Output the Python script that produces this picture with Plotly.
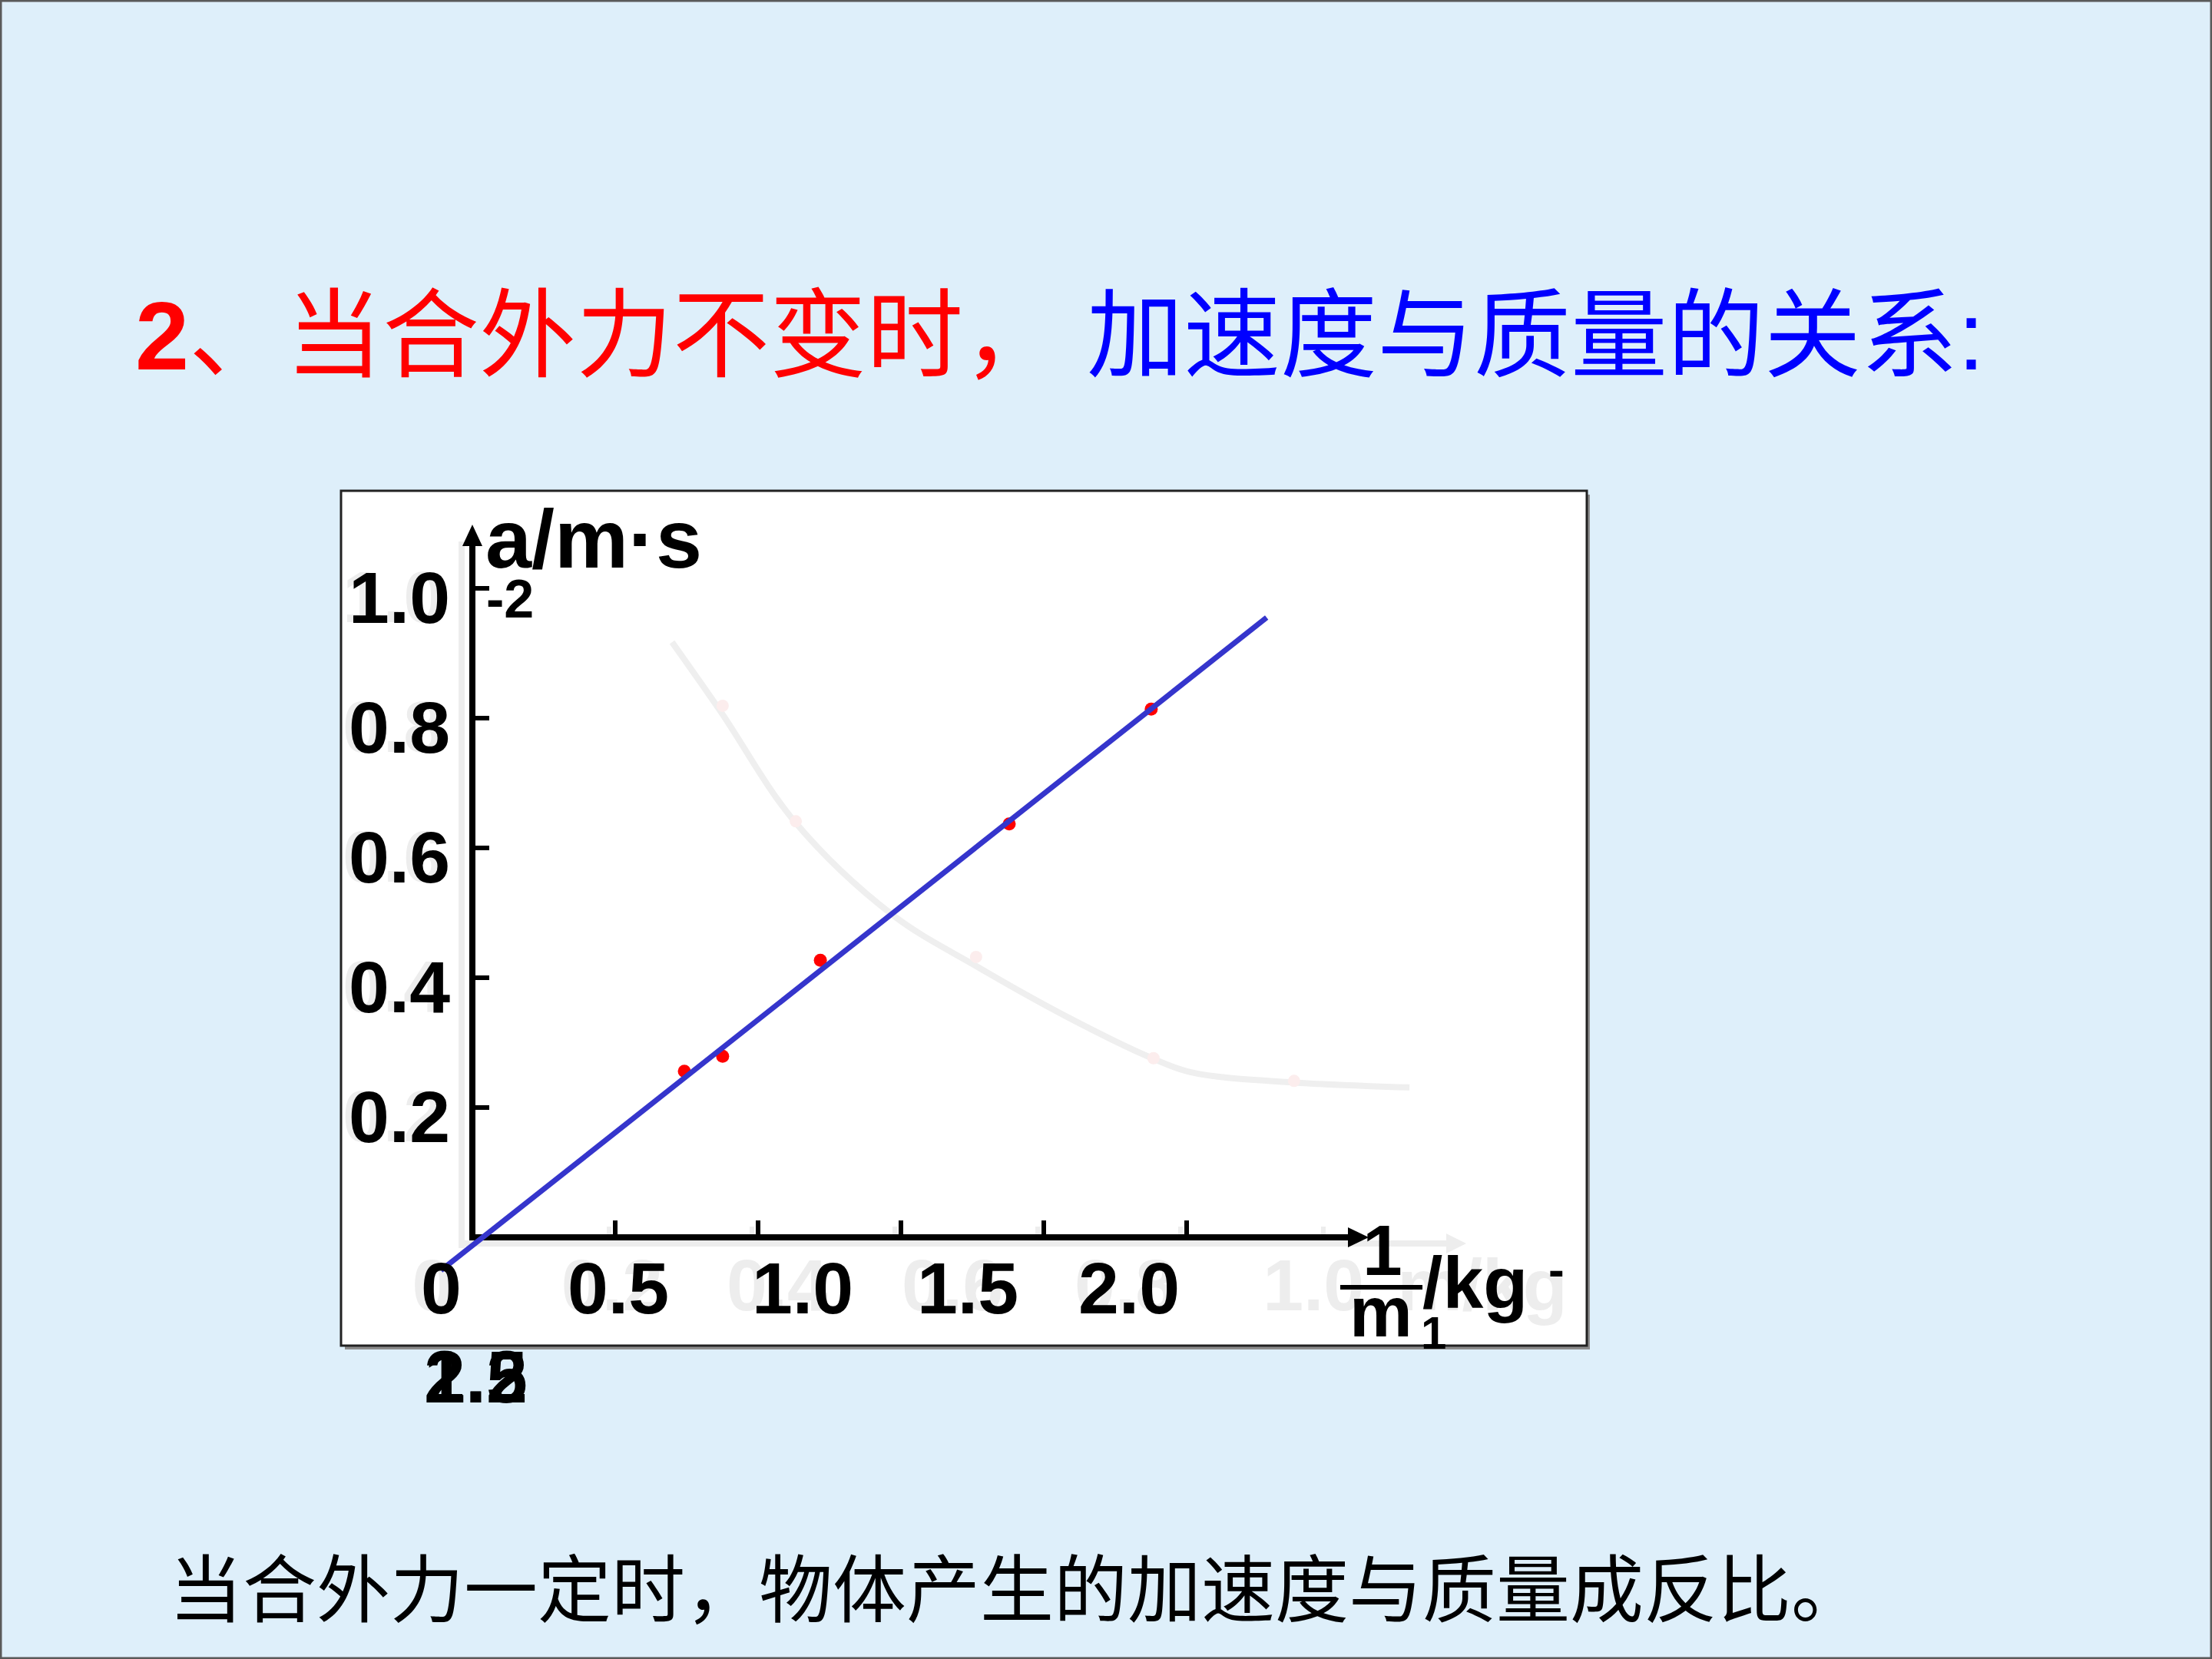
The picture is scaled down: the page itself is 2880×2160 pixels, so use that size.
import plotly.graph_objects as go

W, H = 2880, 2160
# pixel calibration of the data axes (origin pixel and pixels per unit)
X0_PX, X_PER_UNIT = 615, 372
Y0_PX, Y_PER_UNIT = 1611, 845

# ---------------- data ----------------
inv_mass = [0.742, 0.876, 1.218, 1.879, 2.376]      # 1/m  (kg^-1)
accel = [0.256, 0.279, 0.427, 0.637, 0.814]         # a    (m/s^2)
fit_x = [-0.11, 2.78]
fit_y = [-0.051, 0.955]

# faded previous chart (a vs m) still visible behind
ghost_curve_x = [0.699, 0.871, 1.129, 1.470, 1.763, 2.089, 2.379, 2.519, 2.860, 3.280]
ghost_curve_y = [0.917, 0.809, 0.640, 0.497, 0.418, 0.338, 0.276, 0.254, 0.239, 0.231]
ghost_pts_x = [0.876, 1.132, 1.763, 2.384, 2.876]
ghost_pts_y = [0.819, 0.641, 0.432, 0.276, 0.241]
ghost_x_labels = ["0", "0.2", "0.4", "0.6", "0.8", "1.0", "m/kg"]
ghost_x_label_pos = [-0.140, 0.489, 1.067, 1.680, 2.285, 2.944, 3.535]

x_ticks = [0.5, 1.0, 1.5, 2.0, 2.5]
y_ticks = [0.2, 0.4, 0.6, 0.8, 1.0]
y_tick_labels = ["0.2", "0.4", "0.6", "0.8", "1.0"]
x_tick_labels = ["0", "0.5", "1.0", "1.5", "2.0"]
x_label_pos = [-0.108, 0.511, 1.156, 1.734, 2.298]

title_red = "2、当合外力不变时，"
title_blue = "加速度与质量的关系:"
conclusion = "当合外力一定时，物体产生的加速度与质量成反比。"
stray_labels = ["1.2", "2.5"]

# ---------------- helpers ----------------
def X(px):
    return (px - X0_PX) / X_PER_UNIT

def Y(py):
    return (Y0_PX - py) / Y_PER_UNIT

def PX(px):
    return px / W

def PY(py):
    return 1 - py / H

BG = "#DEEFFA"
GHOST = "#EDEDED"
LAT = "Liberation Sans, Arial, sans-serif"
CJK = "Liberation Sans, Noto Sans CJK SC, sans-serif"
TICK_SIZE = 95

fig = go.Figure()

# ghost layer (faded previous chart)
fig.add_trace(go.Scatter(x=ghost_curve_x, y=ghost_curve_y, mode="lines",
                         line=dict(color="#EFEFEF", width=8, shape="spline", smoothing=1.0),
                         hoverinfo="skip"))
fig.add_trace(go.Scatter(x=ghost_pts_x, y=ghost_pts_y, mode="markers",
                         marker=dict(color="#FCEDED", size=16), hoverinfo="skip"))
fig.add_trace(go.Scatter(x=[X(578)] * len(y_ticks), y=[t - 20 / Y_PER_UNIT for t in y_ticks],
                         mode="text", text=y_tick_labels, textposition="middle left",
                         textfont=dict(family=LAT, size=TICK_SIZE, color=GHOST, weight="bold"),
                         hoverinfo="skip"))
fig.add_trace(go.Scatter(x=ghost_x_label_pos, y=[Y(1682)] * len(ghost_x_labels),
                         mode="text", text=ghost_x_labels, textposition="middle center",
                         textfont=dict(family=LAT, size=TICK_SIZE, color=GHOST, weight="bold"),
                         hoverinfo="skip"))

# real data
fig.add_trace(go.Scatter(x=inv_mass, y=accel, mode="markers",
                         marker=dict(color="#FF0000", size=17)))
fig.add_trace(go.Scatter(x=fit_x, y=fit_y, mode="lines",
                         line=dict(color="#3535CC", width=7)))

shapes = []
# chart box shadow + box
shapes.append(dict(type="rect", xref="paper", yref="paper", layer="below",
                   x0=PX(449), x1=PX(2070), y0=PY(1757), y1=PY(644),
                   fillcolor="#8C8C8C", line=dict(width=0)))
shapes.append(dict(type="rect", xref="paper", yref="paper", layer="below",
                   x0=PX(444), x1=PX(2066), y0=PY(1752), y1=PY(639),
                   fillcolor="white", line=dict(color="#222222", width=3)))
# outer slide border
shapes.append(dict(type="rect", xref="paper", yref="paper", layer="above",
                   x0=0, x1=1, y0=0, y1=1, line=dict(color="#5A5A5A", width=5)))

# ghost axes
shapes.append(dict(type="line", xref="x", yref="y", layer="below",
                   x0=X(601), x1=X(601), y0=Y(1625), y1=Y(705),
                   line=dict(color=GHOST, width=8)))
shapes.append(dict(type="line", xref="x", yref="y", layer="below",
                   x0=X(597), x1=X(1885), y0=Y(1619), y1=Y(1619),
                   line=dict(color=GHOST, width=8)))
shapes.append(dict(type="path", xref="x", yref="y", layer="below",
                   path=f"M {X(1909)},{Y(1619)} L {X(1883)},{Y(1606)} L {X(1883)},{Y(1632)} Z",
                   fillcolor=GHOST, line=dict(width=0)))
for t in x_ticks + [3.0]:
    gx = t - 8 / X_PER_UNIT
    shapes.append(dict(type="line", xref="x", yref="y", layer="below",
                       x0=gx, x1=gx, y0=Y(1619), y1=Y(1597),
                       line=dict(color=GHOST, width=6)))

# real axes
shapes.append(dict(type="line", xref="x", yref="y", layer="below",
                   x0=0, x1=0, y0=Y(1615), y1=Y(705),
                   line=dict(color="black", width=8)))
shapes.append(dict(type="path", xref="x", yref="y", layer="below",
                   path=f"M 0,{Y(683)} L {X(602)},{Y(711)} L {X(628)},{Y(711)} Z",
                   fillcolor="black", line=dict(width=0)))
shapes.append(dict(type="line", xref="x", yref="y", layer="below",
                   x0=X(611), x1=X(1760), y0=0, y1=0,
                   line=dict(color="black", width=8)))
shapes.append(dict(type="path", xref="x", yref="y", layer="below",
                   path=f"M {X(1782)},0 L {X(1755)},{Y(1598)} L {X(1755)},{Y(1624)} Z",
                   fillcolor="black", line=dict(width=0)))
for t in x_ticks:
    shapes.append(dict(type="line", xref="x", yref="y", layer="below",
                       x0=t, x1=t, y0=0, y1=Y(1589),
                       line=dict(color="black", width=6)))
for t in y_ticks:
    shapes.append(dict(type="line", xref="x", yref="y", layer="below",
                       x0=0, x1=X(637), y0=t, y1=t,
                       line=dict(color="black", width=6)))
# fraction bar of 1/m
shapes.append(dict(type="line", xref="paper", yref="paper", layer="above",
                   x0=PX(1745), x1=PX(1852), y0=PY(1676), y1=PY(1676),
                   line=dict(color="black", width=6)))

ann = []
# real tick labels
for lab, t in zip(y_tick_labels, y_ticks):
    ann.append(dict(text=f"<b>{lab}</b>", xref="paper", yref="y", x=PX(588), y=t,
                    yshift=-12, xanchor="right", yanchor="middle", showarrow=False,
                    font=dict(family=LAT, size=TICK_SIZE, color="black")))
for lab, p in zip(x_tick_labels, x_label_pos):
    ann.append(dict(text=f"<b>{lab}</b>", xref="x", yref="y", x=p, y=0,
                    yshift=-66, xanchor="center", yanchor="middle", showarrow=False,
                    font=dict(family=LAT, size=TICK_SIZE, color="black")))

# axis titles
ann.append(dict(text="<b>a/m·s</b>", xref="paper", yref="paper", x=PX(630), y=PY(701),
                xanchor="left", yanchor="middle", showarrow=False,
                font=dict(family=LAT, size=108, color="black")))
ann.append(dict(text="<b>-2</b>", xref="paper", yref="paper", x=PX(664), y=PY(780),
                xanchor="center", yanchor="middle", showarrow=False,
                font=dict(family=LAT, size=70, color="black")))
ann.append(dict(text="<b>1</b>", xref="paper", yref="paper", x=PX(1800), y=PY(1628),
                xanchor="center", yanchor="middle", showarrow=False,
                font=dict(family=LAT, size=93, color="black")))
ann.append(dict(text="<b>m</b>", xref="paper", yref="paper", x=PX(1798), y=PY(1708),
                xanchor="center", yanchor="middle", showarrow=False,
                font=dict(family=LAT, size=92, color="black")))
ann.append(dict(text="<b>/kg</b>", xref="paper", yref="paper", x=PX(1850), y=PY(1670),
                xanchor="left", yanchor="middle", showarrow=False,
                font=dict(family=LAT, size=95, color="black")))
ann.append(dict(text="<b>-</b>", xref="paper", yref="paper", x=PX(2026), y=PY(1652),
                xanchor="center", yanchor="middle", showarrow=False,
                font=dict(family=LAT, size=62, color="black")))
ann.append(dict(text="<b>1</b>", xref="paper", yref="paper", x=PX(1866), y=PY(1735),
                xanchor="center", yanchor="middle", showarrow=False,
                font=dict(family=LAT, size=60, color="black")))
for lab in stray_labels:
    ann.append(dict(text=f"<b>{lab}</b>", xref="paper", yref="paper", x=PX(550), y=PY(1792),
                    xanchor="left", yanchor="middle", showarrow=False,
                    font=dict(family=LAT, size=97, color="black")))

# title & conclusion
ann.append(dict(text=f"<b>{title_red[0]}</b>{title_red[1:]} <span style='color:#0000FF'>{title_blue}</span>",
                xref="paper", yref="paper", x=PX(174), y=PY(438),
                xanchor="left", yanchor="middle", showarrow=False,
                font=dict(family=CJK, size=126, color="#FF0000")))
ann.append(dict(text=conclusion, xref="paper", yref="paper", x=PX(218), y=PY(2062),
                xanchor="left", yanchor="middle", showarrow=False,
                font=dict(family="Noto Sans CJK SC, sans-serif", size=96, color="black")))

fig.update_layout(
    width=W, height=H, autosize=False,
    margin=dict(l=0, r=0, t=0, b=0, pad=0),
    paper_bgcolor=BG, plot_bgcolor=BG,
    showlegend=False,
    shapes=shapes, annotations=ann,
    xaxis=dict(range=[X(0), X(W)], visible=False, fixedrange=True, domain=[0, 1]),
    yaxis=dict(range=[Y(H), Y(0)], visible=False, fixedrange=True, domain=[0, 1]),
)

fig.write_html("out.html")
